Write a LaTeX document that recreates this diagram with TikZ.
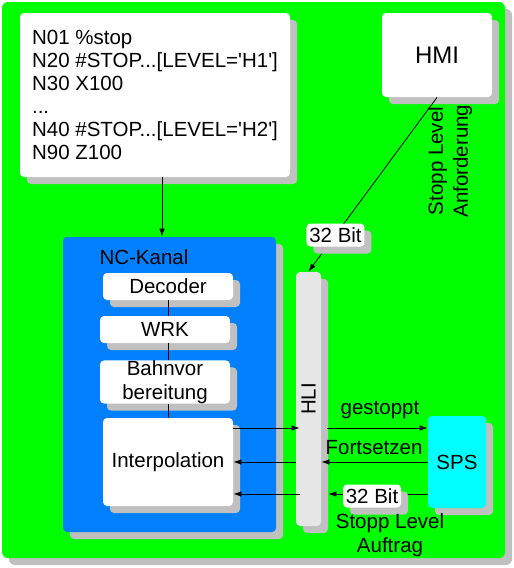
\documentclass[tikz,border=0pt]{standalone}
\usepackage{fontspec}
\setmainfont{Liberation Sans}
\usetikzlibrary{shadows, arrows.meta}

\definecolor{bggreen}{HTML}{00FF00}
\definecolor{ncblue}{HTML}{0080FF}
\definecolor{spscyan}{HTML}{00FFFF}
\definecolor{shadowgray}{HTML}{C0C0C0}
\definecolor{hligray}{HTML}{E6E6E6}

\begin{document}
\begin{tikzpicture}[x=1pt, y=-1pt, >={Latex[length=8pt, width=5.5pt]}, line width=0.8pt,
        font=\fontsize{20.5}{23}\selectfont,
        shade box/.style={rounded corners=4pt, inner sep=0pt, draw=none,
            drop shadow={shadow xshift=7pt, shadow yshift=-7pt, fill=shadowgray, opacity=1}},
        white box/.style={shade box, fill=white},
        bit label/.style={white box, minimum width=58pt, minimum height=23pt}]

            \useasboundingbox (0,0) rectangle (514,568);
            \fill[bggreen, rounded corners=6pt,
                drop shadow={shadow xshift=7pt, shadow yshift=-7pt, fill=shadowgray, opacity=1}]
                (2,2) rectangle (505,558);

            \node[white box, minimum width=270pt, minimum height=164pt, align=left] (code) at (155,95)
                {N01 \%stop\\N20 \#STOP...[LEVEL=\textquotesingle H1\textquotesingle]\\N30 X100\\...\\
                 N40 \#STOP...[LEVEL=\textquotesingle H2\textquotesingle]\\N90 Z100};
            \node[white box, minimum width=110pt, minimum height=84pt,
                font=\fontsize{24}{28}\selectfont] (hmi) at (437,55) {HMI};

            \node[shade box, fill=ncblue, minimum width=213pt, minimum height=295pt] (nc) at (169.5,384.5) {};
            \node (nctitle) at (144,257) {NC-Kanal};
            \node[white box, minimum width=130pt, minimum height=27pt] (dec) at (168,286.5) {Decoder};
            \node[white box, minimum width=130pt, minimum height=27pt] (wrk) at (165,329.5) {WRK};
            \node[white box, minimum width=130pt, minimum height=42pt, align=center,
                font=\fontsize{20.5}{24}\selectfont] (bahn) at (165,382) {Bahnvor\\bereitung};
            \node[white box, minimum width=130pt, minimum height=88pt] (interp) at (168,462) {Interpolation};

            \foreach \a/\b in {dec/wrk, wrk/bahn, bahn/interp}{
                \draw (dec.south |- \a.south) -- (dec.south |- \b.north);
            }

            \node[shade box, fill=hligray, minimum width=25pt, minimum height=254pt] (hli) at (308.5,399) {};
            \node[rotate=90] (hlitext) at (hli) {HLI};
            \node[shade box, fill=spscyan, minimum width=58pt, minimum height=92pt] (sps) at (457,462) {SPS};

            \draw[->] ([xshift=7pt]code.south) -- ([xshift=7pt]code.south |- nc.north);
            \draw[->] (hmi.south) -- node[bit label, pos=0.79] (bitin) {32 Bit} (hli.north);
            \node[rotate=90, align=center, font=\fontsize{20.5}{25}\selectfont] (request) at (450,161)
                {Stopp Level\\Anforderung};

            % HLI <-> Interpolation / SPS
            \draw[->] ([yshift=34pt]interp.east) -- ([yshift=34pt, xshift=4pt]interp.east -| hli.west);
            \draw[->] ([yshift=34pt, xshift=6pt]sps.west -| hli.east) -- ([yshift=34pt]sps.west);
            \draw[->] (sps.west) -- (sps.west -| hli.east);
            \draw[->] (interp.east -| hli.west) -- (interp.east);
            \draw[->] ([yshift=-32pt]sps.west) -- node[bit label, pos=0.56, yshift=-2pt] (bitout) {32 Bit}
                ([yshift=-32pt, xshift=7pt]sps.west -| hli.east);
            \draw[->] ([yshift=-32pt, xshift=4pt]interp.east -| hli.west) -- ([yshift=-32pt]interp.east);

            \node (stopped) at (380,410) {gestoppt};
            \node (resume) at (374,448) {Fortsetzen};
            \node[align=center, font=\fontsize{20.5}{24}\selectfont] (order) at (390,535) {Stopp Level\\Auftrag};
        \end{tikzpicture}
\end{document}
